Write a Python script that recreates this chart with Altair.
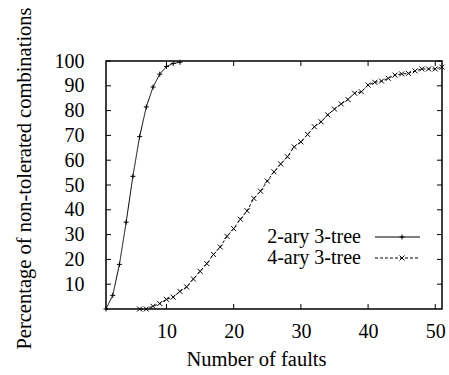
import altair as alt
import pandas as pd

# Measured fraction of fault combinations that cannot be tolerated
faults_2ary = list(range(1, 13))
pct_2ary = [0, 5.5, 18, 35, 53.5, 69.5, 81.5, 89.5, 94.7, 97.8, 99, 99.5]

faults_4ary = list(range(6, 52))
pct_4ary = [0, 0, 1.1, 2.2, 3.9, 4.8, 7.1, 8.9, 12.1, 15.2,
            18.3, 22, 25, 29.3, 32.4, 36.2, 39.6, 44.6, 47.5, 51.6,
            55.3, 58.5, 61.4, 65.4, 67.4, 70.4, 73.5, 75.5, 78.3, 80.6,
            82.7, 84.5, 87, 87.6, 90.3, 91.4, 91.9, 93, 94.3, 94.8,
            95.0, 96, 96.8, 96.8, 96.8, 97.5]

series_names = ["2-ary 3-tree", "4-ary 3-tree"]
x_ticks = [10, 20, 30, 40, 50]
y_ticks = [10, 20, 30, 40, 50, 60, 70, 80, 90, 100]

FONT = "Times New Roman, Liberation Serif, serif"
PLUS = "M-1,0L1,0M0,-1L0,1"
CROSS = "M-1,-1L1,1M-1,1L1,-1"
DASHES = [[1, 0], [3, 2]]
MARK_SIZE = 25

df = pd.concat([
    pd.DataFrame({"faults": faults_2ary, "pct": pct_2ary, "series": series_names[0]}),
    pd.DataFrame({"faults": faults_4ary, "pct": pct_4ary, "series": series_names[1]}),
])

x_scale = alt.Scale(domain=[1, 51], nice=False, zero=False)
y_scale = alt.Scale(domain=[0, 100], nice=False)

x_axis = alt.Axis(values=x_ticks, title="Number of faults", grid=False,
                  domain=False, ticks=False, tickSize=0, labelOverlap=False,
                  labelPadding=12, titlePadding=8, titleX=150)
y_axis = alt.Axis(values=y_ticks, title="Percentage of non-tolerated combinations",
                  grid=False, domain=False, ticks=False, tickSize=0, labelOverlap=False,
                  labelPadding=22, titlePadding=20, titleY=117)
x_enc = alt.X("faults:Q", scale=x_scale, axis=x_axis)
y_enc = alt.Y("pct:Q", scale=y_scale, axis=y_axis)

base = alt.Chart(df)

lines = base.mark_line(color="black", strokeWidth=1).encode(
    x=x_enc, y=y_enc,
    strokeDash=alt.StrokeDash("series:N", scale=alt.Scale(domain=series_names, range=DASHES),
                              legend=None),
)

points = base.mark_point(filled=False, color="black", strokeWidth=1, size=MARK_SIZE, opacity=1).encode(
    x=x_enc, y=y_enc,
    shape=alt.Shape("series:N", scale=alt.Scale(domain=series_names, range=[PLUS, CROSS]), legend=None),
)

# inward tick marks on all four sides of the frame
xt = pd.DataFrame({"faults": x_ticks})
yt = pd.DataFrame({"pct": y_ticks})
tick_style = dict(color="black", strokeWidth=1)
ticks = [
    alt.Chart(xt).mark_rule(**tick_style).encode(x=x_enc, y=alt.value(248), y2=alt.value(243)),
    alt.Chart(xt).mark_rule(**tick_style).encode(x=x_enc, y=alt.value(0), y2=alt.value(5)),
    alt.Chart(yt).mark_rule(**tick_style).encode(y=y_enc, x=alt.value(0), x2=alt.value(5)),
    alt.Chart(yt).mark_rule(**tick_style).encode(y=y_enc, x=alt.value(336), x2=alt.value(331)),
]

# key: label to the left, line sample with a marker to the right
key_layers = []
for i, (name, dash, shape) in enumerate(zip(series_names, DASHES, [PLUS, CROSS])):
    row_y = 176 + 21 * i
    kd = pd.DataFrame({"series": [name]})
    key_layers += [
        alt.Chart(kd).mark_text(align="right", baseline="middle", font=FONT, fontSize=20,
                                color="black").encode(text="series:N", x=alt.value(255), y=alt.value(row_y)),
        alt.Chart(kd).mark_rule(color="black", strokeWidth=1, strokeDash=dash).encode(
            x=alt.value(269), x2=alt.value(314), y=alt.value(row_y)),
        alt.Chart(kd).mark_point(filled=False, color="black", strokeWidth=1, size=MARK_SIZE,
                                 opacity=1, shape=shape).encode(x=alt.value(296), y=alt.value(row_y)),
    ]

chart = alt.layer(lines, points, *ticks, *key_layers).properties(
    width=336, height=248,
    autosize=alt.AutoSizeParams(type="none"),
    padding={"left": 106, "top": 61, "right": 7, "bottom": 66},
).configure_view(
    stroke="black", strokeWidth=1.5
).configure_axis(
    labelFont=FONT, titleFont=FONT, labelFontSize=20, titleFontSize=20.5,
    labelColor="black", titleColor="black", titleFontWeight="normal",
)

chart.save("out.html", embed_options={"renderer": "svg", "actions": False})
